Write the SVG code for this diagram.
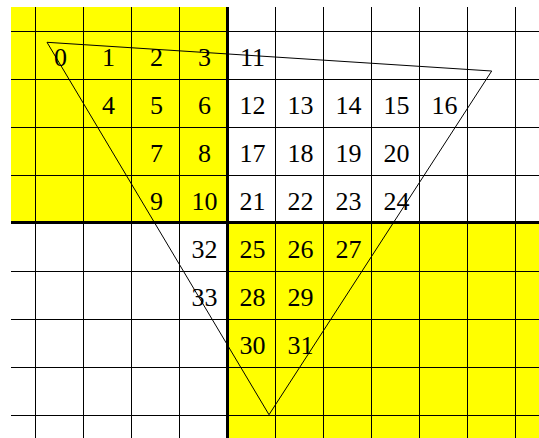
<svg xmlns="http://www.w3.org/2000/svg" width="539" height="438" viewBox="0 0 539 438">
<style>
.fill{fill:#ffff00;stroke:none}
.g{stroke:#000;stroke-width:1;fill:none}
.thick{stroke:#000;stroke-width:3;fill:none}
.tri{stroke:#000;stroke-width:1;fill:none;stroke-linejoin:miter}
text{font-family:"Liberation Serif","Times New Roman",serif;font-size:26px;fill:#000;text-anchor:middle}
</style>
<rect width="539" height="438" fill="#fff"/>
<g id="shading">
<rect class="fill" x="11" y="7" width="216" height="216"/>
<rect class="fill" x="227" y="223" width="312" height="215"/>
</g>
<g id="grid">
<path class="g" d="M35.5 7V438M83.5 7V438M131.5 7V438M179.5 7V438M275.5 7V438M323.5 7V438M371.5 7V438M419.5 7V438M467.5 7V438M515.5 7V438"/>
<path class="g" d="M11 31.5H539M11 79.5H539M11 127.5H539M11 175.5H539M11 271.5H539M11 319.5H539M11 367.5H539M11 415.5H539"/>
<path class="thick" d="M11 222.5H539M227.5 7V438"/>
</g>
<g id="labels" transform="translate(1,0)">
<text x="59.5" y="66">0</text>
<text x="107.5" y="66">1</text>
<text x="155.5" y="66">2</text>
<text x="203.5" y="66">3</text>
<text x="251.5" y="66">11</text>
<text x="107.5" y="114">4</text>
<text x="155.5" y="114">5</text>
<text x="203.5" y="114">6</text>
<text x="251.5" y="114">12</text>
<text x="299.5" y="114">13</text>
<text x="347.5" y="114">14</text>
<text x="395.5" y="114">15</text>
<text x="443.5" y="114">16</text>
<text x="155.5" y="162">7</text>
<text x="203.5" y="162">8</text>
<text x="251.5" y="162">17</text>
<text x="299.5" y="162">18</text>
<text x="347.5" y="162">19</text>
<text x="395.5" y="162">20</text>
<text x="155.5" y="210">9</text>
<text x="203.5" y="210">10</text>
<text x="251.5" y="210">21</text>
<text x="299.5" y="210">22</text>
<text x="347.5" y="210">23</text>
<text x="395.5" y="210">24</text>
<text x="203.5" y="258">32</text>
<text x="251.5" y="258">25</text>
<text x="299.5" y="258">26</text>
<text x="347.5" y="258">27</text>
<text x="203.5" y="306">33</text>
<text x="251.5" y="306">28</text>
<text x="299.5" y="306">29</text>
<text x="251.5" y="354">30</text>
<text x="299.5" y="354">31</text>
</g>
<g id="triangle">
<polygon class="tri" points="47,42.3 491.7,71 269,414.7"/>
</g>
</svg>
